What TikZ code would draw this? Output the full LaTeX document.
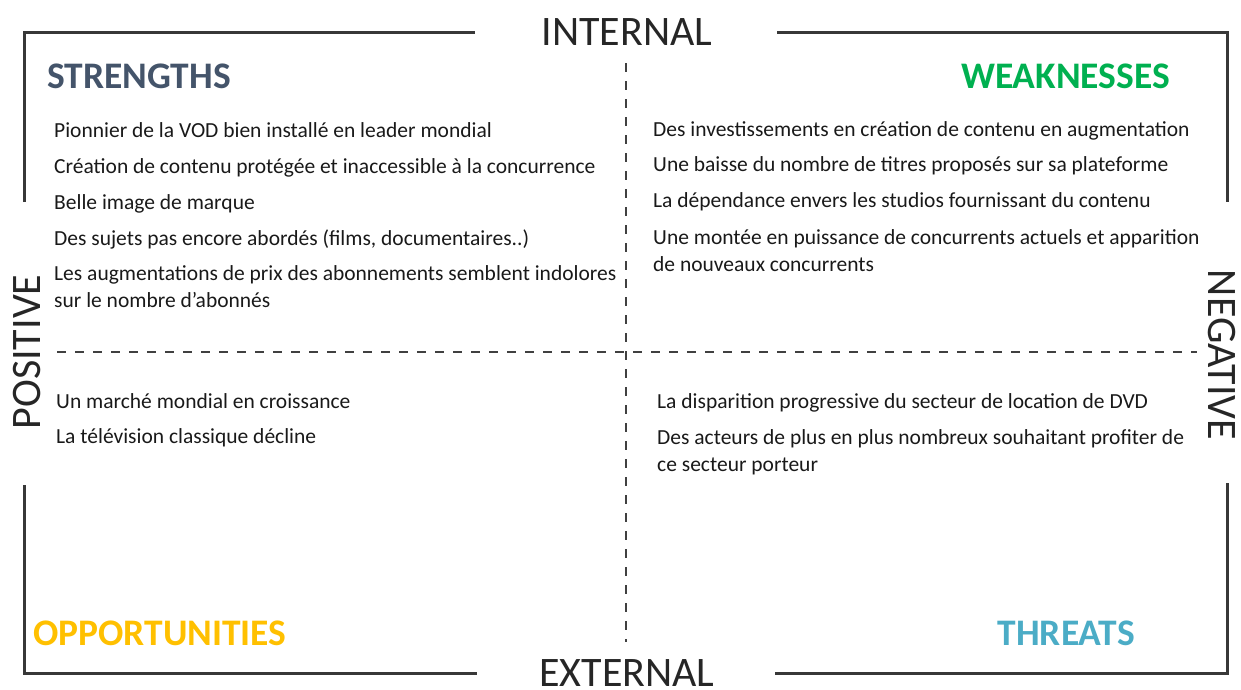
\documentclass[tikz,border=0pt]{standalone}
\usepackage{fontspec}
\setmainfont{Carlito}
\usepackage{tikz}
\usetikzlibrary{positioning}
\definecolor{strcol}{HTML}{44546A}
\definecolor{weakcol}{HTML}{00B050}
\definecolor{oppcol}{HTML}{FFC000}
\definecolor{thrcol}{HTML}{4BACC6}
\tikzstyle{item}=[anchor=base west, inner sep=0pt, align=left, text=black!90, font=\fontsize{21.5}{27}\selectfont]
\tikzstyle{head}=[inner sep=0pt, font=\fontsize{37.5}{40}\selectfont\bfseries]
\tikzstyle{axis}=[inner sep=0pt, text=black!85, font=\fontsize{42}{46}\selectfont]
\tikzstyle{frame}=[line width=3pt, draw=black!78]
\tikzstyle{split}=[line width=2.5pt, draw=black!75, dash pattern=on 9pt off 9pt]

\begin{document}
\begin{tikzpicture}[x=1pt, y=-1pt]
\useasboundingbox (0,0) rectangle (1241,689);
% corners and gaps of the frame
\coordinate (tl) at (24,32); \coordinate (tr) at (1227,32);
\coordinate (bl) at (24,673); \coordinate (br) at (1227,673);
\coordinate (t1) at (475,32); \coordinate (t2) at (777,32);
\coordinate (b1) at (477,673); \coordinate (b2) at (775,673);
\coordinate (l1) at (24,202); \coordinate (l2) at (24,485);
\coordinate (r1) at (1227,202); \coordinate (r2) at (1227,483);
\draw [frame] (l1) -- (tl) -- (t1) (t2) -- (tr) -- (r1);
\draw [frame] (l2) -- (bl) -- (b1) (b2) -- (br) -- (r2);
% dashed cross
\coordinate (vt) at (626,63); \coordinate (vb) at (626,642);
\coordinate (hl) at (57,352); \coordinate (hr) at (1197,352);
\draw [split] (vt) -- (vb);
\draw [split] (hl) -- (hr);
% axis labels
\node [axis] (int) at (627,32) {INTERNAL};
\node [axis] (ext) at (627,673) {EXTERNAL};
\node [axis, rotate=90] (pos) at (27,352) {POSITIVE};
\node [axis, rotate=-90] (neg) at (1222,355) {NEGATIVE};
% quadrant titles
\node [head, text=strcol, anchor=base west] (str) at (47,88) {STRENGTHS};
\node [head, text=weakcol, anchor=base east] (weak) at (1170,88) {WEAKNESSES};
\node [head, text=oppcol, anchor=base west] (opp) at (33,645) {OPPORTUNITIES};
\node [head, text=thrcol, anchor=base east] (thr) at (1135,645) {THREATS};
% strengths (two-line items sit lower: their base is not the first line)
\node [item] (s1) at (54,137) {Pionnier de la VOD bien installé en leader mondial};
\node [item] (s2) at (54,173) {Création de contenu protégée et inaccessible à la concurrence};
\node [item] (s3) at (54,209) {Belle image de marque};
\node [item] (s4) at (54,245) {Des sujets pas encore abordés (films, documentaires..)};
\node [item] (s5) at (54,307) {Les augmentations de prix des abonnements semblent indolores\\sur le nombre d’abonnés};
% weaknesses
\node [item] (w1) at (653,136) {Des investissements en création de contenu en augmentation};
\node [item] (w2) at (653,171) {Une baisse du nombre de titres proposés sur sa plateforme};
\node [item] (w3) at (653,207) {La dépendance envers les studios fournissant du contenu};
\node [item] (w4) at (653,271) {Une montée en puissance de concurrents actuels et apparition\\de nouveaux concurrents};
% opportunities
\node [item] (o1) at (56,408) {Un marché mondial en croissance};
\node [item] (o2) at (56,443) {La télévision classique décline};
% threats
\node [item] (t1n) at (657,408) {La disparition progressive du secteur de location de DVD};
\node [item] (t2n) at (657,471) {Des acteurs de plus en plus nombreux souhaitant profiter de\\ce secteur porteur};
\end{tikzpicture}
\end{document}
